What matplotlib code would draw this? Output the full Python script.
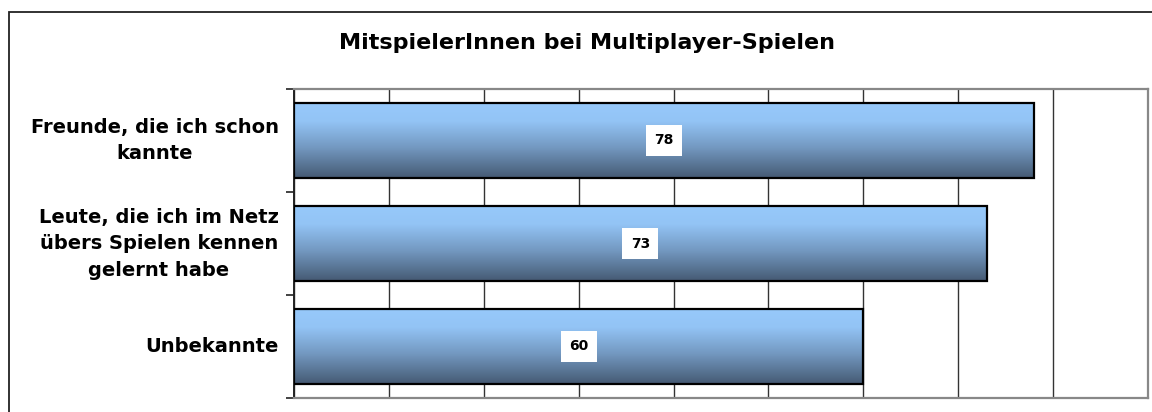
import matplotlib.pyplot as plt
import numpy as np
from matplotlib.patches import Rectangle
from matplotlib.colors import LinearSegmentedColormap

# data
categories = ['Freunde, die ich schon\nkannte',
              'Leute, die ich im Netz\nübers Spielen kennen\ngelernt habe',
              'Unbekannte']
values = [78, 73, 60]
title = 'MitspielerInnen bei Multiplayer-Spielen'

plt.rcParams['font.family'] = ['DejaVu Sans']

fig = plt.figure(figsize=(11.52, 4.12), dpi=100)
W, H = 1152, 412
ax = fig.add_axes([294 / W, 1 - 398 / H, (1148 - 294) / W, (398 - 89) / H])

# outer chart frame (runs off the right and bottom edge)
fig.add_artist(Rectangle((9 / W, -0.05), 1.2, 1 - 12 / H + 0.05,
                         transform=fig.transFigure, fill=False,
                         edgecolor='#222222', linewidth=1.3, zorder=0))

y = np.arange(len(categories))
bars = ax.barh(y, values, height=0.73, color='none', edgecolor='black',
               linewidth=1.6, zorder=3)

# vertical gradient fill, light blue on top to slate at the bottom
cmap = LinearSegmentedColormap.from_list(
    'grad', [(0.0, '#97c9fb'), (0.25, '#93c4f5'), (0.6, '#7398c0'),
             (1.0, '#455a73')])
grad = np.linspace(0, 1, 256).reshape(-1, 1)
for b in bars:
    x0, y0, w, h = b.get_x(), b.get_y(), b.get_width(), b.get_height()
    im = ax.imshow(grad, cmap=cmap, aspect='auto', origin='upper',
                   extent=[x0, x0 + w, y0 + h, y0], zorder=2,
                   interpolation='bilinear')
    im.set_clip_path(b)

for yi, v in zip(y, values):
    ax.text(v / 2, yi, str(v), ha='center', va='center', fontsize=10,
            fontweight='bold', zorder=5,
            bbox=dict(boxstyle='square,pad=0.6', facecolor='white',
                      edgecolor='none'))

ax.set_xlim(0, 90)
ax.set_ylim(len(categories) - 0.5, -0.5)
ax.set_xticks(np.arange(0, 91, 10))
ax.tick_params(axis='x', length=0, labelbottom=False)
ax.grid(axis='x', color='#333333', linewidth=1.0, zorder=1)
ax.set_axisbelow(True)

# category labels, centred blocks right of the axis
ax.set_yticks([])
ax.set_yticks(np.arange(-0.5, len(categories)), minor=True)
ax.tick_params(axis='y', which='minor', length=6, width=1.2, color='#222222',
               labelleft=False)
for yi, c in zip(y, categories):
    ax.text(-0.018, yi, c, transform=ax.get_yaxis_transform(), ha='right',
            va='center', multialignment='center', fontsize=14,
            fontweight='bold', linespacing=1.5)

for s in ['top', 'right', 'bottom']:
    ax.spines[s].set_color('#888888')
    ax.spines[s].set_linewidth(1.6)
ax.spines['left'].set_color('#222222')
ax.spines['left'].set_linewidth(1.4)

fig.text(587 / W, 1 - 43 / H, title, ha='center', va='center',
         fontsize=16, fontweight='bold')

fig.savefig('out.png', dpi=100)
